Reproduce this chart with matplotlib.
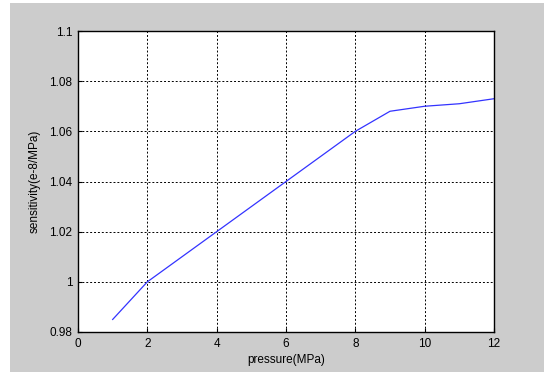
import matplotlib
matplotlib.use("Agg")
import matplotlib.pyplot as plt
from matplotlib.patches import Rectangle

pressure = [1, 2, 3, 4, 5, 6, 7, 8, 9, 10, 11, 12]
sensitivity = [0.985, 1.000, 1.010, 1.020, 1.030, 1.040, 1.050, 1.060, 1.068, 1.070, 1.071, 1.073]
xticks = [0, 2, 4, 6, 8, 10, 12]
yticks = [0.98, 1.0, 1.02, 1.04, 1.06, 1.08, 1.1]
ytick_labels = ["0.98", "1", "1.02", "1.04", "1.06", "1.08", "1.1"]

plt.rcParams['font.family'] = ['Liberation Sans', 'DejaVu Sans']

W, H = 544, 372
fig = plt.figure(figsize=(W / 100, H / 100), dpi=100, facecolor='white')
fig.patches.append(Rectangle((10 / W, 0), 1 - 10 / W, 1 - 3 / H, transform=fig.transFigure,
                             facecolor='#cccccc', edgecolor='none', zorder=-1))

ax = fig.add_axes([78 / W, 1 - 332 / H, (494 - 78) / W, (332 - 31) / H])
ax.set_facecolor('white')
ax.plot(pressure, sensitivity, color='#3333ff', linewidth=0.9)
ax.set_xlim(0, 12)
ax.set_ylim(0.98, 1.1)
ax.set_xticks(xticks)
ax.set_xticklabels([str(t) for t in xticks])
ax.set_yticks(yticks)
ax.set_yticklabels(ytick_labels)
ax.grid(True, color='black', linestyle=(0, (2, 2)), linewidth=0.7)
ax.tick_params(direction='in', length=3, labelsize=8.5, colors='black', pad=4)
for s in ax.spines.values():
    s.set_color('black')
    s.set_linewidth(1.0)
ax.set_xlabel('pressure(MPa)', fontsize=8.5, labelpad=3)
ax.set_ylabel('sensitivity(e-8/MPa)', fontsize=8.5, labelpad=6)

fig.savefig('out.png', dpi=100, facecolor=fig.get_facecolor())
